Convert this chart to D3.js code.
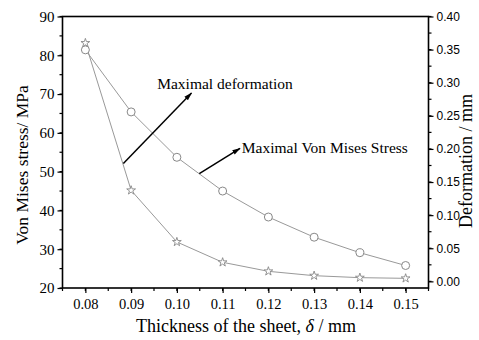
<!DOCTYPE html>
<html>
<head>
<meta charset="utf-8">
<script src="https://cdn.jsdelivr.net/npm/d3@7"></script>
<style>
  body { margin: 0; background: #fff; }
  svg { display: block; }
</style>
</head>
<body>
<div id="chart"></div>
<script>
// thickness values (mm)
const thickness = [0.08, 0.09, 0.10, 0.11, 0.12, 0.13, 0.14, 0.15];
// max von mises stress (MPa) - circles, left axis
const stress = [81.4, 65.4, 53.7, 45.0, 38.3, 33.1, 29.1, 25.8];
// max deformation (mm) - stars, right axis
const deformation = [0.360, 0.1375, 0.0595, 0.0288, 0.0152, 0.0086, 0.0056, 0.0046];

const xTicks = [0.08, 0.09, 0.10, 0.11, 0.12, 0.13, 0.14, 0.15];
const leftTicks = [20, 30, 40, 50, 60, 70, 80, 90];
const rightTicks = [0.00, 0.05, 0.10, 0.15, 0.20, 0.25, 0.30, 0.35, 0.40];

// annotations: text position and arrow (in x / left-axis units)
const notes = [
  { text: "Maximal deformation", tx: 0.0957, ty: 71.3, x1: 0.0883, y1: 52.1, x2: 0.1032, y2: 70.3 },
  { text: "Maximal Von Mises Stress", tx: 0.1142, ty: 54.9, x1: 0.1049, y1: 49.5, x2: 0.1138, y2: 56.0 }
];

const width = 479, height = 340;
const pLeft = 62.5, pRight = 428.5, pTop = 16.5, pBottom = 288;

const svg = d3.select("#chart").append("svg")
  .attr("width", width)
  .attr("height", height);

svg.append("defs").append("marker")
  .attr("id", "arrow")
  .attr("viewBox", "0 0 12 10")
  .attr("refX", 11).attr("refY", 5)
  .attr("markerWidth", 9).attr("markerHeight", 7)
  .attr("markerUnits", "userSpaceOnUse")
  .attr("orient", "auto")
  .append("path")
  .attr("d", "M0,1.5 L12,5 L0,8.5 Z")
  .attr("fill", "#000");

const x = d3.scaleLinear().domain([0.075, 0.155]).range([pLeft, pRight]);
const yL = d3.scaleLinear().domain([20, 90]).range([pBottom, pTop]);
const yR = d3.scaleLinear().domain([-0.01, 0.40]).range([pBottom, pTop]);

const serif = "'Liberation Serif', 'Times New Roman', serif";
const sans = "'Liberation Sans', Arial, sans-serif";

// minor ticks
const xMinor = d3.range(0.075, 0.1551, 0.005);
const lMinor = d3.range(20, 90.1, 5);
const rMinor = d3.range(0, 0.401, 0.025);

svg.append("g").selectAll("line").data(xMinor).join("line")
  .attr("x1", d => x(d)).attr("x2", d => x(d))
  .attr("y1", pBottom).attr("y2", pBottom + 3)
  .attr("stroke", "#000").attr("stroke-width", 1.2);
svg.append("g").selectAll("line").data(lMinor).join("line")
  .attr("x1", pLeft).attr("x2", pLeft - 3)
  .attr("y1", d => yL(d)).attr("y2", d => yL(d))
  .attr("stroke", "#000").attr("stroke-width", 1.2);
svg.append("g").selectAll("line").data(rMinor).join("line")
  .attr("x1", pRight).attr("x2", pRight + 3)
  .attr("y1", d => yR(d)).attr("y2", d => yR(d))
  .attr("stroke", "#000").attr("stroke-width", 1.2);

// axes
const xAxis = svg.append("g")
  .attr("transform", `translate(0,${pBottom})`)
  .call(d3.axisBottom(x).tickValues(xTicks).tickSize(5).tickPadding(6).tickFormat(d3.format(".2f")));
xAxis.selectAll("text").attr("font-family", serif).attr("font-size", 14.5).attr("fill", "#000");

const lAxis = svg.append("g")
  .attr("transform", `translate(${pLeft},0)`)
  .call(d3.axisLeft(yL).tickValues(leftTicks).tickSize(5).tickPadding(3));
lAxis.selectAll("text").attr("font-family", serif).attr("font-size", 15).attr("fill", "#000");

const rAxis = svg.append("g")
  .attr("transform", `translate(${pRight},0)`)
  .call(d3.axisRight(yR).tickValues(rightTicks).tickSize(5).tickPadding(3).tickFormat(d3.format(".2f")));
rAxis.selectAll("text").attr("font-family", sans).attr("font-size", 12).attr("fill", "#000");

[xAxis, lAxis, rAxis].forEach(a => {
  a.select(".domain").remove();
  a.selectAll(".tick line").attr("stroke", "#000").attr("stroke-width", 1.2);
});

// frame
svg.append("rect")
  .attr("x", pLeft).attr("y", pTop)
  .attr("width", pRight - pLeft).attr("height", pBottom - pTop)
  .attr("fill", "none").attr("stroke", "#000").attr("stroke-width", 1.6);

// lines
const lineS = d3.line().x((d, i) => x(thickness[i])).y(d => yL(d));
const lineD = d3.line().x((d, i) => x(thickness[i])).y(d => yR(d));

svg.append("path").datum(stress).attr("d", lineS)
  .attr("fill", "none").attr("stroke", "#999").attr("stroke-width", 1);
svg.append("path").datum(deformation).attr("d", lineD)
  .attr("fill", "none").attr("stroke", "#999").attr("stroke-width", 1);

svg.append("g").selectAll("circle").data(stress).join("circle")
  .attr("cx", (d, i) => x(thickness[i])).attr("cy", d => yL(d))
  .attr("r", 4).attr("fill", "#fff").attr("stroke", "#888").attr("stroke-width", 1);

const star = d3.symbol().type(d3.symbolStar).size(24);
svg.append("g").selectAll("path").data(deformation).join("path")
  .attr("d", star)
  .attr("transform", (d, i) => `translate(${x(thickness[i])},${yR(d)})`)
  .attr("fill", "#fff").attr("stroke", "#888").attr("stroke-width", 0.9);

// annotations
const ann = svg.append("g");
notes.forEach(n => {
  ann.append("line")
    .attr("x1", x(n.x1)).attr("y1", yL(n.y1))
    .attr("x2", x(n.x2)).attr("y2", yL(n.y2))
    .attr("stroke", "#000").attr("stroke-width", 1.5)
    .attr("marker-end", "url(#arrow)");
  ann.append("text")
    .attr("x", x(n.tx)).attr("y", yL(n.ty))
    .attr("font-family", serif).attr("font-size", 15.5)
    .text(n.text);
});

// axis titles
svg.append("text")
  .attr("x", 246).attr("y", 332)
  .attr("text-anchor", "middle")
  .attr("font-family", serif).attr("font-size", 18)
  .call(t => {
    t.append("tspan").text("Thickness of the sheet,  ");
    t.append("tspan").attr("font-style", "italic").text("δ");
    t.append("tspan").text(" / mm");
  });

svg.append("text")
  .attr("transform", "translate(28,165) rotate(-90)")
  .attr("text-anchor", "middle")
  .attr("font-family", serif).attr("font-size", 17.5)
  .text("Von Mises stress/ MPa");

svg.append("text")
  .attr("transform", "translate(472,161) rotate(-90)")
  .attr("text-anchor", "middle")
  .attr("font-family", serif).attr("font-size", 18)
  .text("Deformation / mm");
</script>
</body>
</html>
